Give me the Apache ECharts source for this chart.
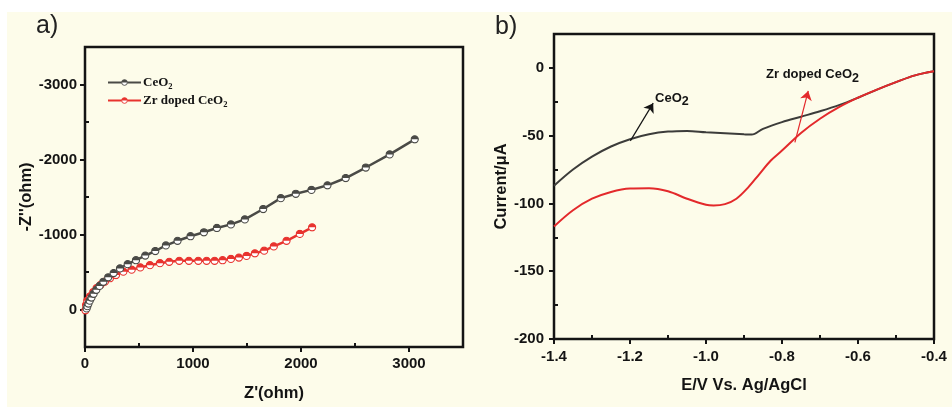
<!DOCTYPE html>
<html>
<head>
<meta charset="utf-8">
<script src="https://cdn.jsdelivr.net/npm/echarts@6/dist/echarts.min.js"></script>
<style>
  html, body { margin: 0; padding: 0; background: #ffffff; }
  #wrap { position: relative; width: 952px; height: 407px; overflow: hidden; }
  #paper { position: absolute; left: 7px; top: 12px; right: 0; bottom: 0; background: #fdfcea; }
  #chart { position: absolute; left: 0; top: 0; width: 952px; height: 407px; }
</style>
</head>
<body>
<div id="wrap"><div id="paper"></div><div id="chart"></div></div>
<script>
// ---- a) Nyquist plot: Z' (ohm) vs Z'' (ohm) ----
const ceo2Re = [15, 22, 32, 44, 60, 80, 105, 135, 170, 215, 265, 324, 395, 472, 558, 651, 749, 857, 977, 1101, 1221, 1351, 1480, 1650, 1813, 1952, 2097, 2245, 2414, 2600, 2821, 3053];
const ceo2Im = [-15, -45, -80, -118, -160, -210, -262, -315, -370, -430, -486, -548, -604, -657, -719, -780, -854, -916, -977, -1030, -1087, -1135, -1201, -1340, -1485, -1543, -1595, -1656, -1753, -1893, -2068, -2269];

const zrRe = [4, 10, 21, 46, 77, 107, 144, 185, 231, 287, 355, 432, 512, 601, 694, 780, 873, 962, 1049, 1126, 1200, 1274, 1351, 1425, 1496, 1573, 1659, 1748, 1866, 1989, 2103];
const zrIm = [10, -60, -118, -176, -233, -285, -329, -373, -417, -460, -505, -531, -561, -591, -618, -636, -649, -649, -649, -649, -649, -657, -675, -692, -715, -749, -784, -841, -916, -1008, -1096];

const nyqXLabels = [0, 1000, 2000, 3000];
const nyqXMinor = [500, 1500, 2500];
const nyqYLabels = [-3000, -2000, -1000, 0];
const nyqYMinor = [-2500, -1500, -500];

// ---- b) Linear sweep: potential (V vs Ag/AgCl) vs current (uA) ----
const lsvE = [-1.40, -1.35, -1.30, -1.25, -1.20, -1.15, -1.10, -1.05, -1.00, -0.95, -0.90, -0.88, -0.85, -0.80, -0.75, -0.70, -0.65, -0.60, -0.55, -0.50, -0.45, -0.40];
const lsvCeO2 = [-87, -75, -65.5, -58, -52.6, -49, -47, -46.5, -47.5, -48.3, -49, -49.2, -45, -40, -36, -32, -27.5, -22, -16, -10.5, -5.5, -2.5];
const lsvZrE = [-1.40, -1.35, -1.30, -1.25, -1.20, -1.15, -1.10, -1.05, -1.00, -0.98, -0.95, -0.92, -0.89, -0.86, -0.83, -0.80, -0.75, -0.70, -0.65, -0.60, -0.55, -0.50, -0.45, -0.40];
const lsvZr = [-117, -105, -96.5, -91.5, -89, -88.8, -91, -96.5, -101, -101.5, -100.5, -96.5, -88.5, -78.5, -68.5, -61, -48, -37.5, -29, -22, -16, -10.5, -5.5, -2.5];

const lsvXLabels = [-1.4, -1.2, -1.0, -0.8, -0.6, -0.4];
const lsvXMinor = [-1.3, -1.1, -0.9, -0.7, -0.5];
const lsvYLabels = [-200, -150, -100, -50, 0];
const lsvYMinor = [-175, -125, -75, -25];

const seriesNames = ['CeO2', 'Zr doped CeO2'];

const GREY = '#4a4a46';
const RED = '#e8332e';
const INK = '#141414';
const SANS = 'Liberation Sans, Arial, sans-serif';
const SERIF = 'Liberation Serif, Times New Roman, serif';

// Origin-style "half up" circle marker
function halfCircle(color) {
  const svg = "<svg xmlns='http://www.w3.org/2000/svg' width='24' height='24'>" +
    "<circle cx='12' cy='12' r='9.5' fill='#ffffff' stroke='" + color + "' stroke-width='3'/>" +
    "<path d='M2.5 12 A9.5 9.5 0 0 1 21.5 12 Z' fill='" + color + "'/></svg>";
  return 'image://data:image/svg+xml;charset=utf-8,' + encodeURIComponent(svg);
}

const zip = (xs, ys) => xs.map((x, i) => [x, ys[i]]);

const tickStyle = { color: INK, width: 2 };
const labelFont = (size) => ({ color: INK, fontSize: size, fontWeight: 'bold', fontFamily: SANS });

function mainAxis(gridIndex, position, min, max, labels, fontSize, margin, name, nameGap, fmt, extra) {
  return Object.assign({
    gridIndex, type: 'value', position, min, max,
    axisLine: { show: true, onZero: false, lineStyle: { color: INK, width: 2 } },
    axisTick: { show: true, inside: false, length: 5, customValues: labels, lineStyle: tickStyle },
    axisLabel: Object.assign({ show: true, margin, customValues: labels, formatter: fmt }, labelFont(fontSize)),
    splitLine: { show: false },
    name, nameLocation: 'middle', nameGap,
    nameTextStyle: { color: INK, fontSize: 16.5, fontWeight: 'bold', fontFamily: SANS }
  }, extra || {});
}
function minorAxis(gridIndex, position, min, max, ticks, extra) {
  return Object.assign({
    gridIndex, type: 'value', position, min, max,
    axisLine: { show: false, onZero: false },
    axisTick: { show: true, inside: true, length: 4, customValues: ticks, lineStyle: tickStyle },
    axisLabel: { show: false },
    splitLine: { show: false }
  }, extra || {});
}

const subRich = (font, size, subSize, lh) => ({
  m: { fontFamily: font, fontWeight: 'bold', fontSize: size, color: INK, lineHeight: lh },
  s: { fontFamily: font, fontWeight: 'bold', fontSize: subSize, color: INK, lineHeight: lh, verticalAlign: 'bottom' }
});

const intFmt = (v) => String(Math.round(v));
const volFmt = (v) => v.toFixed(1);

const chart = echarts.init(document.getElementById('chart'), null, { renderer: 'canvas' });

chart.setOption({
  animation: false,
  backgroundColor: 'transparent',
  grid: [
    { left: 85, top: 47, width: 378, height: 302, show: true, borderColor: INK, borderWidth: 2.5, backgroundColor: 'transparent' },
    { left: 554, top: 34, width: 380, height: 305, show: true, borderColor: INK, borderWidth: 2.5, backgroundColor: 'transparent' }
  ],
  graphic: [
    { type: 'text', left: 36, top: 14, style: { text: 'a)', fontSize: 25, fontFamily: SANS, fill: '#222' } },
    { type: 'text', left: 495, top: 15, style: { text: 'b)', fontSize: 25, fontFamily: SANS, fill: '#222' } }
  ],
  legend: {
    data: seriesNames,
    orient: 'vertical', left: 107, top: 76, padding: 0,
    itemWidth: 33, itemHeight: 9, itemGap: 3,
    formatter: (n) => n === 'CeO2' ? '{m|CeO}{s|2}' : '{m|Zr doped CeO}{s|2}',
    textStyle: { padding: [0, 0, 0, -3], rich: subRich(SERIF, 13, 8.5, 17) }
  },
  xAxis: [
    mainAxis(0, 'bottom', 0, 3500, nyqXLabels, 15, 9, "Z'(ohm)", 38, intFmt),
    minorAxis(0, 'bottom', 0, 3500, nyqXMinor),
    mainAxis(1, 'bottom', -1.4, -0.4, lsvXLabels, 15, 10, 'E/V Vs. Ag/AgCl', 38, volFmt),
    minorAxis(1, 'bottom', -1.4, -0.4, lsvXMinor)
  ],
  yAxis: [
    mainAxis(0, 'left', -3500, 500, nyqYLabels, 15, 8, "-Z''(ohm)", 45, intFmt, { inverse: true }),
    minorAxis(0, 'left', -3500, 500, nyqYMinor, { inverse: true }),
    mainAxis(1, 'left', -200, 25, lsvYLabels, 15, 10, 'Current/\u03bcA', 43, intFmt),
    minorAxis(1, 'left', -200, 25, lsvYMinor)
  ],
  series: [
    {
      name: seriesNames[0], type: 'line', xAxisIndex: 0, yAxisIndex: 0,
      data: zip(ceo2Re, ceo2Im),
      symbol: halfCircle(GREY), symbolSize: 9, showAllSymbol: true,
      lineStyle: { color: GREY, width: 2.5 }, itemStyle: { color: GREY }, z: 3
    },
    {
      name: seriesNames[1], type: 'line', xAxisIndex: 0, yAxisIndex: 0,
      data: zip(zrRe, zrIm),
      symbol: halfCircle(RED), symbolSize: 9, showAllSymbol: true,
      lineStyle: { color: RED, width: 2.5 }, itemStyle: { color: RED }, z: 2
    },
    {
      name: 'CeO2 LSV', type: 'line', xAxisIndex: 2, yAxisIndex: 2,
      data: zip(lsvE, lsvCeO2), smooth: 0.35, showSymbol: false,
      lineStyle: { color: '#3c3c3a', width: 2 }, itemStyle: { color: '#3c3c3a' }, z: 2,
      markLine: {
        silent: true, symbol: ['none', 'arrow'], symbolSize: 9, precision: 3,
        label: { show: false }, lineStyle: { color: INK, width: 1.2, type: 'solid' },
        data: [[{ coord: [-1.199, -53.8] }, { coord: [-1.139, -26] }]]
      },
      markPoint: {
        silent: true, symbol: 'circle', symbolSize: 0,
        data: [{
          coord: [-1.134, -22.5],
          label: { show: true, position: 'inside', align: 'left', verticalAlign: 'middle',
            formatter: '{m|CeO}{s|2}', rich: subRich(SANS, 13, 12.5, 20) }
        }]
      }
    },
    {
      name: 'Zr doped CeO2 LSV', type: 'line', xAxisIndex: 2, yAxisIndex: 2,
      data: zip(lsvZrE, lsvZr), smooth: 0.35, showSymbol: false,
      lineStyle: { color: '#e3292b', width: 2 }, itemStyle: { color: '#e3292b' }, z: 3,
      markLine: {
        silent: true, symbol: ['none', 'arrow'], symbolSize: 9, precision: 3,
        label: { show: false }, lineStyle: { color: '#e3292b', width: 1.2, type: 'solid' },
        data: [[{ coord: [-0.766, -55] }, { coord: [-0.731, -17] }]]
      },
      markPoint: {
        silent: true, symbol: 'circle', symbolSize: 0,
        data: [{
          coord: [-0.842, -5],
          label: { show: true, position: 'inside', align: 'left', verticalAlign: 'middle',
            formatter: '{m|Zr doped CeO}{s|2}', rich: subRich(SANS, 13, 12.5, 20) }
        }]
      }
    }
  ]
});
</script>
</body>
</html>
